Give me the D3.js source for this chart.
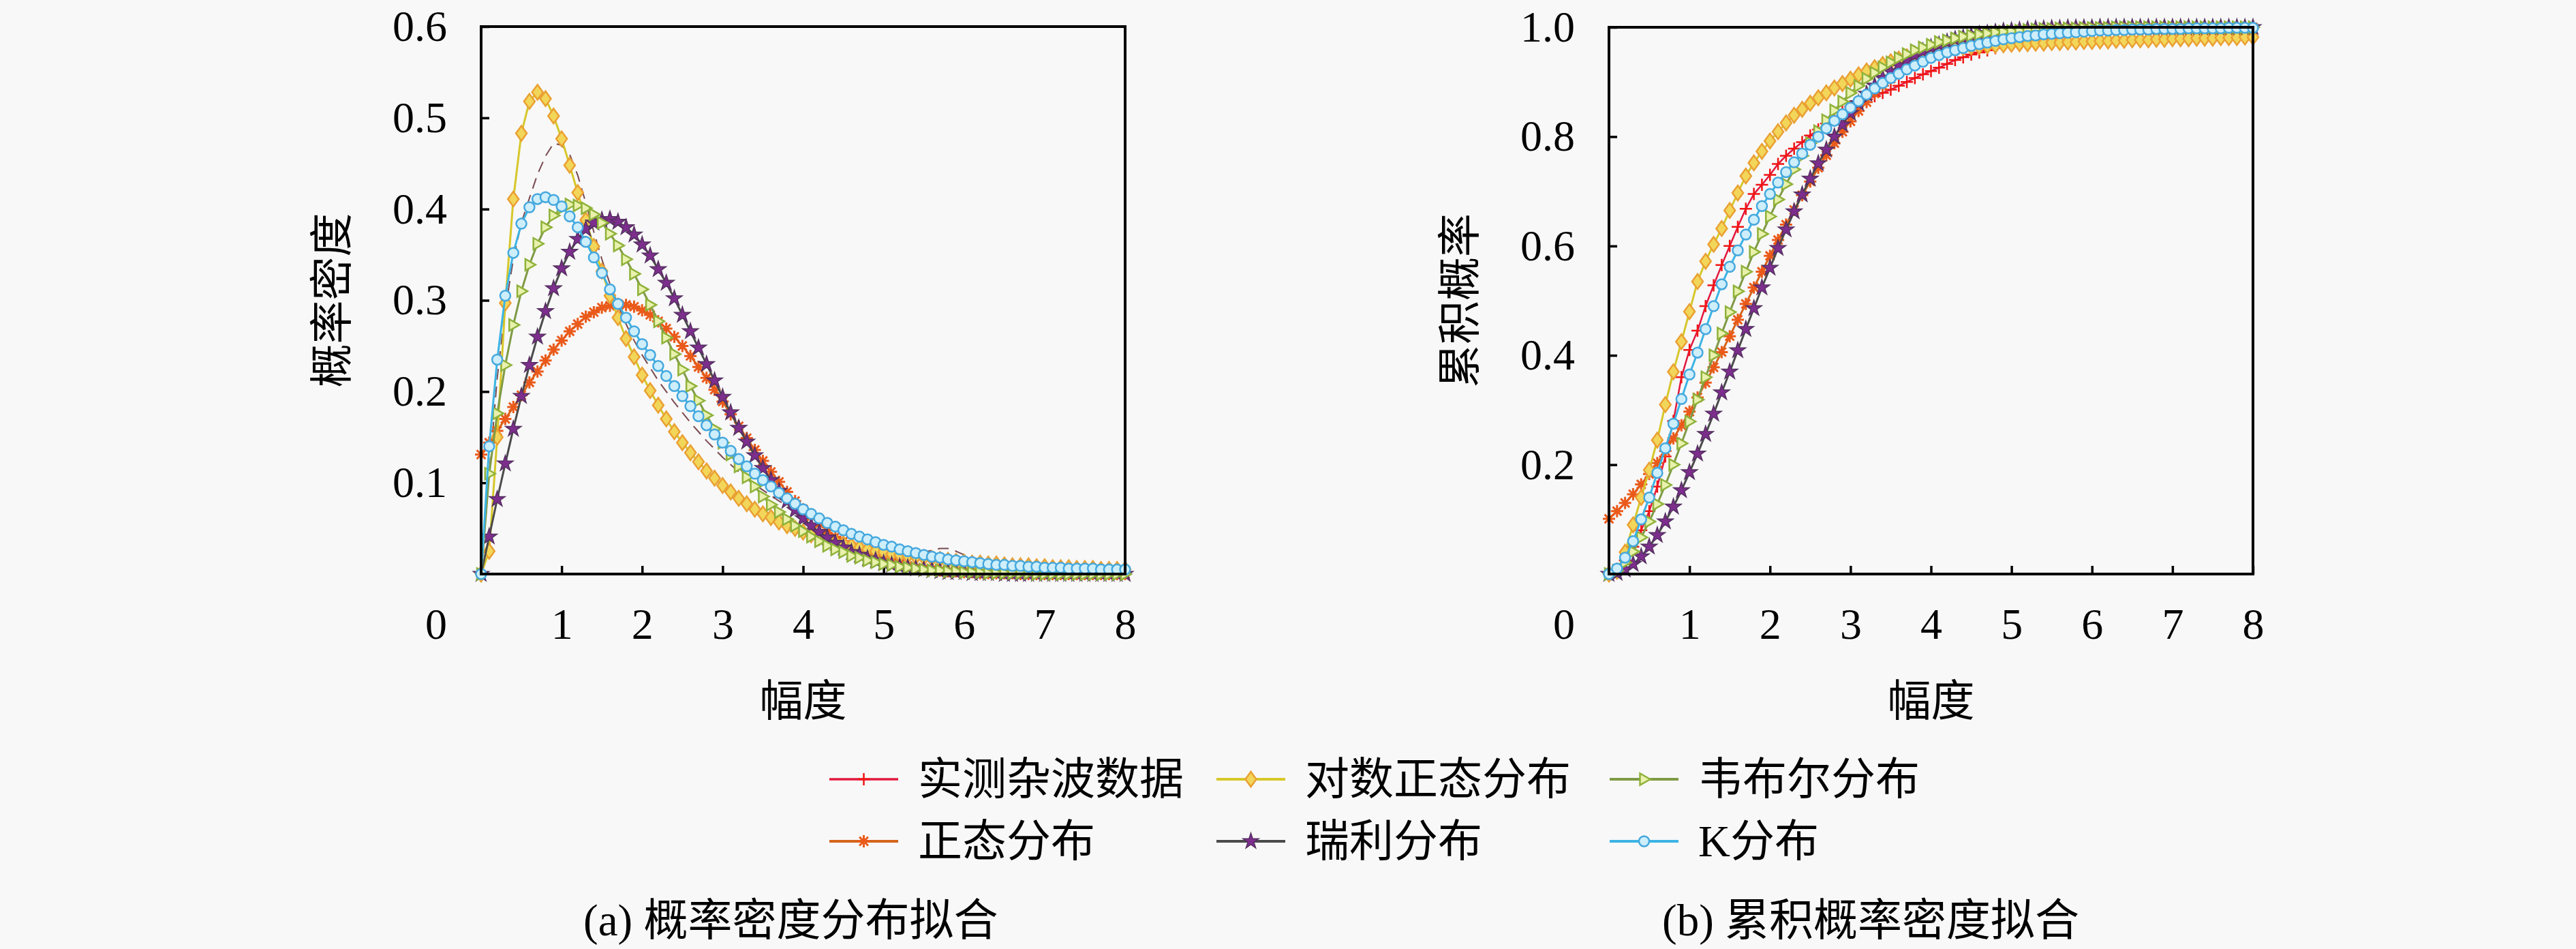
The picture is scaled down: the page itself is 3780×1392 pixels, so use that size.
<!DOCTYPE html>
<html>
<head>
<meta charset="utf-8">
<script src="https://cdn.jsdelivr.net/npm/d3@7"></script>
<style>
body { margin: 0; background: #f8f8f8; }
</style>
</head>
<body>
<div class="chart"></div>
<script>
// amplitude samples shared by every curve
const amplitude = [0,0.1,0.2,0.3,0.4,0.5,0.6,0.7,0.8,0.9,
  1,1.1,1.2,1.3,1.4,1.5,1.6,1.7,1.8,1.9,
  2,2.1,2.2,2.3,2.4,2.5,2.6,2.7,2.8,2.9,
  3,3.1,3.2,3.3,3.4,3.5,3.6,3.7,3.8,3.9,
  4,4.1,4.2,4.3,4.4,4.5,4.6,4.7,4.8,4.9,
  5,5.1,5.2,5.3,5.4,5.5,5.6,5.7,5.8,5.9,
  6,6.1,6.2,6.3,6.4,6.5,6.6,6.7,6.8,6.9,
  7,7.1,7.2,7.3,7.4,7.5,7.6,7.7,7.8,7.9,8];

const seriesNames = ['实测杂波数据', '正态分布', '对数正态分布', '瑞利分布', '韦布尔分布', 'K分布'];

// (a) probability density
const pdfMeasured = [0.000,0.110,0.215,0.290,0.345,0.385,0.412,0.438,0.458,0.472,
  0.470,0.460,0.437,0.407,0.375,0.345,0.318,0.295,0.274,0.256,
  0.240,0.226,0.212,0.200,0.188,0.177,0.166,0.156,0.146,0.137,
  0.128,0.120,0.112,0.105,0.098,0.092,0.086,0.080,0.075,0.070,
  0.065,0.061,0.057,0.053,0.049,0.045,0.042,0.039,0.036,0.033,
  0.031,0.029,0.027,0.025,0.024,0.024,0.026,0.028,0.028,0.025,
  0.021,0.018,0.016,0.014,0.012,0.011,0.010,0.009,0.008,0.008,
  0.007,0.007,0.006,0.006,0.006,0.005,0.005,0.005,0.005,0.004,0.004];
const pdfNormal = [0.131,0.144,0.157,0.170,0.183,0.196,0.210,0.222,0.234,0.246,
  0.256,0.266,0.274,0.282,0.287,0.292,0.294,0.296,0.295,0.293,
  0.289,0.284,0.277,0.269,0.260,0.250,0.239,0.227,0.215,0.202,
  0.189,0.175,0.162,0.149,0.136,0.124,0.112,0.101,0.090,0.080,
  0.071,0.063,0.055,0.048,0.041,0.036,0.030,0.026,0.022,0.018,
  0.016,0.013,0.011,0.009,0.007,0.006,0.005,0.004,0.003,0.003,
  0.002,0.002,0.001,0.001,0.001,0.001,0.001,0.000,0.000,0.000,
  0.000,0.000,0.000,0.000,0.000,0.000,0.000,0.000,0.000,0.000,0.000];
const pdfLognormal = [0.000,0.025,0.150,0.297,0.411,0.483,0.518,0.528,0.521,0.502,
  0.477,0.448,0.418,0.388,0.359,0.332,0.305,0.281,0.258,0.238,
  0.218,0.201,0.185,0.170,0.156,0.144,0.133,0.123,0.113,0.105,
  0.097,0.090,0.083,0.077,0.071,0.066,0.062,0.057,0.053,0.050,
  0.046,0.043,0.040,0.038,0.035,0.033,0.031,0.029,0.027,0.025,
  0.024,0.022,0.021,0.020,0.019,0.018,0.017,0.016,0.015,0.014,
  0.013,0.012,0.012,0.011,0.011,0.010,0.009,0.009,0.009,0.008,
  0.008,0.007,0.007,0.007,0.006,0.006,0.006,0.005,0.005,0.005,0.005];
const pdfRayleigh = [0.000,0.041,0.082,0.121,0.159,0.195,0.229,0.260,0.288,0.313,
  0.335,0.353,0.367,0.378,0.385,0.388,0.389,0.386,0.380,0.372,
  0.361,0.349,0.334,0.319,0.302,0.284,0.266,0.248,0.230,0.212,
  0.194,0.177,0.160,0.145,0.130,0.116,0.103,0.091,0.080,0.070,
  0.061,0.053,0.046,0.040,0.034,0.029,0.024,0.021,0.017,0.015,
  0.012,0.010,0.008,0.007,0.006,0.005,0.004,0.003,0.002,0.002,
  0.002,0.001,0.001,0.001,0.001,0.000,0.000,0.000,0.000,0.000,
  0.000,0.000,0.000,0.000,0.000,0.000,0.000,0.000,0.000,0.000,0.000];
const pdfWeibull = [0.000,0.110,0.176,0.229,0.273,0.310,0.339,0.362,0.380,0.393,
  0.401,0.405,0.404,0.401,0.394,0.385,0.373,0.360,0.345,0.329,
  0.312,0.295,0.277,0.259,0.241,0.224,0.206,0.190,0.174,0.159,
  0.144,0.131,0.118,0.106,0.096,0.085,0.076,0.068,0.060,0.053,
  0.047,0.041,0.036,0.031,0.027,0.024,0.020,0.018,0.015,0.013,
  0.011,0.010,0.008,0.007,0.006,0.005,0.004,0.004,0.003,0.003,
  0.002,0.002,0.002,0.001,0.001,0.001,0.001,0.001,0.001,0.000,
  0.000,0.000,0.000,0.000,0.000,0.000,0.000,0.000,0.000,0.000,0.000];
const pdfK = [0.000,0.140,0.235,0.305,0.352,0.384,0.402,0.411,0.413,0.410,
  0.403,0.392,0.380,0.364,0.347,0.330,0.312,0.296,0.281,0.266,
  0.252,0.240,0.228,0.217,0.206,0.195,0.184,0.173,0.163,0.153,
  0.144,0.135,0.126,0.118,0.110,0.103,0.096,0.089,0.083,0.077,
  0.071,0.066,0.061,0.056,0.052,0.048,0.044,0.041,0.038,0.035,
  0.032,0.030,0.027,0.025,0.023,0.021,0.019,0.018,0.016,0.015,
  0.014,0.013,0.012,0.011,0.010,0.010,0.009,0.009,0.008,0.008,
  0.007,0.007,0.007,0.006,0.006,0.006,0.006,0.005,0.005,0.005,0.005];

// (b) cumulative probability
const cdfMeasured = [0.000,0.006,0.025,0.050,0.080,0.115,0.160,0.215,0.280,0.360,
  0.410,0.445,0.490,0.528,0.565,0.600,0.635,0.668,0.695,0.712,
  0.730,0.750,0.765,0.778,0.790,0.802,0.813,0.824,0.835,0.845,
  0.855,0.862,0.868,0.874,0.880,0.886,0.893,0.900,0.907,0.914,
  0.920,0.926,0.933,0.940,0.945,0.950,0.954,0.958,0.962,0.965,
  0.968,0.970,0.972,0.975,0.977,0.980,0.982,0.985,0.987,0.990,
  0.992,0.993,0.994,0.995,0.995,0.996,0.996,0.997,0.997,0.997,
  0.998,0.998,0.998,0.998,0.998,0.999,0.999,0.999,0.999,0.999,0.999];
const cdfNormal = [0.101,0.115,0.130,0.146,0.164,0.183,0.203,0.225,0.248,0.272,
  0.297,0.323,0.350,0.378,0.406,0.435,0.465,0.494,0.524,0.553,
  0.582,0.611,0.639,0.666,0.693,0.718,0.743,0.766,0.788,0.809,
  0.828,0.847,0.863,0.879,0.893,0.906,0.918,0.929,0.938,0.947,
  0.954,0.961,0.967,0.972,0.976,0.980,0.984,0.986,0.989,0.991,
  0.993,0.994,0.995,0.996,0.997,0.998,0.998,0.999,0.999,0.999,
  0.999,1.000,1.000,1.000,1.000,1.000,1.000,1.000,1.000,1.000,
  1.000,1.000,1.000,1.000,1.000,1.000,1.000,1.000,1.000,1.000,1.000];
const cdfLognormal = [0.000,0.005,0.040,0.090,0.140,0.190,0.245,0.310,0.370,0.425,
  0.480,0.535,0.572,0.603,0.632,0.665,0.697,0.728,0.752,0.773,
  0.792,0.809,0.825,0.839,0.850,0.861,0.871,0.880,0.889,0.897,
  0.905,0.913,0.920,0.926,0.932,0.937,0.942,0.946,0.950,0.953,
  0.956,0.958,0.960,0.962,0.963,0.964,0.965,0.966,0.967,0.968,
  0.969,0.970,0.970,0.971,0.971,0.972,0.972,0.973,0.973,0.974,
  0.974,0.975,0.975,0.976,0.976,0.977,0.977,0.977,0.978,0.978,
  0.979,0.979,0.979,0.980,0.980,0.980,0.981,0.981,0.981,0.982,0.982];
const cdfRayleigh = [0.000,0.002,0.008,0.018,0.032,0.050,0.071,0.096,0.123,0.153,
  0.186,0.220,0.256,0.293,0.332,0.370,0.409,0.448,0.486,0.524,
  0.560,0.596,0.630,0.663,0.694,0.723,0.751,0.776,0.800,0.822,
  0.843,0.861,0.878,0.893,0.907,0.919,0.930,0.940,0.949,0.956,
  0.963,0.968,0.973,0.978,0.981,0.984,0.987,0.989,0.991,0.993,
  0.994,0.995,0.996,0.997,0.997,0.998,0.998,0.999,0.999,0.999,
  0.999,1.000,1.000,1.000,1.000,1.000,1.000,1.000,1.000,1.000,
  1.000,1.000,1.000,1.000,1.000,1.000,1.000,1.000,1.000,1.000,1.000];
const cdfWeibull = [0.000,0.006,0.021,0.041,0.067,0.096,0.128,0.163,0.200,0.239,
  0.279,0.319,0.360,0.400,0.440,0.479,0.517,0.553,0.589,0.622,
  0.654,0.685,0.713,0.740,0.765,0.788,0.810,0.830,0.848,0.864,
  0.880,0.893,0.906,0.917,0.927,0.936,0.944,0.951,0.958,0.963,
  0.968,0.973,0.976,0.980,0.983,0.985,0.987,0.989,0.991,0.992,
  0.993,0.994,0.995,0.996,0.997,0.997,0.998,0.998,0.998,0.999,
  0.999,0.999,0.999,1.000,1.000,1.000,1.000,1.000,1.000,1.000,
  1.000,1.000,1.000,1.000,1.000,1.000,1.000,1.000,1.000,1.000,1.000];
const cdfK = [0.000,0.010,0.030,0.060,0.100,0.140,0.185,0.230,0.275,0.320,
  0.365,0.405,0.448,0.490,0.530,0.562,0.592,0.621,0.648,0.673,
  0.695,0.716,0.735,0.753,0.769,0.785,0.800,0.815,0.829,0.841,
  0.853,0.865,0.877,0.888,0.898,0.907,0.915,0.923,0.930,0.937,
  0.944,0.949,0.954,0.958,0.962,0.966,0.969,0.972,0.975,0.978,
  0.980,0.982,0.984,0.985,0.987,0.988,0.989,0.990,0.991,0.992,
  0.993,0.994,0.994,0.995,0.995,0.996,0.996,0.996,0.997,0.997,
  0.997,0.997,0.998,0.998,0.998,0.998,0.998,0.999,0.999,0.999,0.999];

const pdfSeries = [pdfMeasured, pdfNormal, pdfLognormal, pdfRayleigh, pdfWeibull, pdfK];
const cdfSeries = [cdfMeasured, cdfNormal, cdfLognormal, cdfRayleigh, cdfWeibull, cdfK];

const xTicks = [1, 2, 3, 4, 5, 6, 7, 8];
const pdfTicks = [0.1, 0.2, 0.3, 0.4, 0.5, 0.6];
const cdfTicks = [0.2, 0.4, 0.6, 0.8, 1.0];

let width = 3780;
let height = 1392;
let latin = "'Liberation Serif', 'Noto Sans CJK SC', serif";

// line / marker look of each series, same order as seriesNames
let styles = [
  {line: '#e3173e', lw: 2.5, marker: 'plus', stroke: '#f01414', fill: 'none', mw: 2.5},
  {line: '#d5641c', lw: 3, marker: 'asterisk', stroke: '#ea5a1a', fill: 'none', mw: 3},
  {line: '#d6c72a', lw: 3, marker: 'diamond', stroke: '#eaa033', fill: '#f2d65a', mw: 2.5},
  {line: '#4b4b4b', lw: 3, marker: 'star', stroke: '#553060', fill: '#7d2e8d', mw: 1.5},
  {line: '#7f9a45', lw: 3, marker: 'triangle', stroke: '#8fb23a', fill: '#e9f1ad', mw: 2.5},
  {line: '#3cb4e4', lw: 3, marker: 'circle', stroke: '#45a8de', fill: '#cdeefa', mw: 2.5}
];

function markerPath(type) {
  if (type == 'plus') return 'M-9,0H9M0,-9V9';
  if (type == 'asterisk') return 'M-9,0H9M0,-9V9M-6.4,-6.4L6.4,6.4M-6.4,6.4L6.4,-6.4';
  if (type == 'diamond') return 'M0,-11L8,0L0,11L-8,0Z';
  if (type == 'triangle') return 'M9,0L-6,-8.5L-6,8.5Z';
  if (type == 'star') return d3.symbol(d3.symbolStar, 165)();
  return d3.symbol(d3.symbolCircle, 177)();
}

let svg = d3.select('.chart')
  .append('svg')
  .attr('width', width)
  .attr('height', height)
  .style('background', '#f8f8f8');

// dashMeasured: the density panel shows the measured curve as a thin dashed trace
function drawPanel(x0, x1, y0, y1, yMax, yTicks, values, yLabel, dashMeasured) {
  let xScale = d3.scaleLinear().domain([0, 8]).range([x0, x1]);
  let yScale = d3.scaleLinear().domain([0, yMax]).range([y0, y1]);
  let g = svg.append('g');

  let xAxis = d3.axisBottom(xScale)
    .tickValues(xTicks)
    .tickSizeInner(-12)
    .tickSizeOuter(0)
    .tickPadding(50)
    .tickFormat(d3.format('d'));
  let yAxis = d3.axisLeft(yScale)
    .tickValues(yTicks)
    .tickSizeInner(-12)
    .tickSizeOuter(0)
    .tickPadding(50)
    .tickFormat(d3.format('.1f'));

  let gx = g.append('g').attr('transform', 'translate(0,' + y0 + ')').call(xAxis);
  let gy = g.append('g').attr('transform', 'translate(' + x0 + ',0)').call(yAxis);
  [gx, gy].forEach(a => {
    a.select('.domain').remove();
    a.selectAll('line').attr('stroke', '#000').attr('stroke-width', 3.5);
    a.selectAll('text').attr('font-family', latin).attr('font-size', 64).attr('fill', '#000');
  });

  // the shared origin label sits left of the corner, on the x label row
  g.append('text')
    .attr('x', x0 - 50)
    .attr('y', y0 + 50)
    .attr('dy', '0.71em')
    .attr('text-anchor', 'end')
    .attr('font-family', latin)
    .attr('font-size', 64)
    .text('0');

  let line = d3.line()
    .x((d, i) => xScale(amplitude[i]))
    .y(d => yScale(d));

  values.forEach((vals, k) => {
    let st = styles[k];
    let dashed = dashMeasured && k == 0;
    g.append('path')
      .datum(vals)
      .attr('d', line)
      .attr('fill', 'none')
      .attr('stroke', dashed ? '#7a4a52' : st.line)
      .attr('stroke-width', dashed ? 2 : st.lw)
      .attr('stroke-dasharray', dashed ? '16 10' : null)
      .attr('stroke-linejoin', 'round');
    if (dashed) return;
    g.append('g')
      .selectAll('path')
      .data(vals)
      .enter()
      .append('path')
      .attr('d', markerPath(st.marker))
      .attr('transform', (d, i) => 'translate(' + xScale(amplitude[i]) + ',' + yScale(d) + ')')
      .attr('fill', st.fill)
      .attr('stroke', st.stroke)
      .attr('stroke-width', st.mw);
  });

  g.append('rect')
    .attr('x', x0)
    .attr('y', y1)
    .attr('width', x1 - x0)
    .attr('height', y0 - y1)
    .attr('fill', 'none')
    .attr('stroke', '#000')
    .attr('stroke-width', 4);

  g.append('text')
    .attr('transform', 'translate(' + (x0 - 219) + ',' + ((y0 + y1) / 2) + ') rotate(-90)')
    .attr('text-anchor', 'middle')
    .attr('dominant-baseline', 'central')
    .attr('font-family', latin)
    .attr('font-size', 64)
    .text(yLabel);
  g.append('text')
    .attr('x', (x0 + x1) / 2)
    .attr('y', 1028)
    .attr('text-anchor', 'middle')
    .attr('dominant-baseline', 'central')
    .attr('font-family', latin)
    .attr('font-size', 64)
    .text('幅度');
}

drawPanel(706, 1651, 842, 39, 0.6, pdfTicks, pdfSeries, '概率密度', true);
drawPanel(2361, 3306, 842, 40, 1.0, cdfTicks, cdfSeries, '累积概率', false);

// legend, filled column by column
let legendCols = [1217, 1785, 2362];
let legendRows = [1143, 1234];
let legend = svg.append('g').attr('id', 'legend');
seriesNames.forEach((name, k) => {
  let st = styles[k];
  let lx = legendCols[Math.floor(k / 2)];
  let ly = legendRows[k % 2];
  let item = legend.append('g').attr('transform', 'translate(' + lx + ',' + ly + ')');
  item.append('line')
    .attr('x1', 0).attr('x2', 101)
    .attr('stroke', st.line)
    .attr('stroke-width', st.lw + 1);
  item.append('path')
    .attr('d', markerPath(st.marker))
    .attr('transform', 'translate(50.5,0)')
    .attr('fill', st.fill)
    .attr('stroke', st.stroke)
    .attr('stroke-width', st.mw);
  item.append('text')
    .attr('x', 130)
    .attr('dominant-baseline', 'central')
    .attr('font-family', latin)
    .attr('font-size', 65)
    .text(name);
});

svg.append('text')
  .attr('x', 856).attr('y', 1350)
  .attr('dominant-baseline', 'central')
  .attr('font-family', latin)
  .attr('font-size', 65)
  .text('(a) 概率密度分布拟合');
svg.append('text')
  .attr('x', 2439).attr('y', 1350)
  .attr('dominant-baseline', 'central')
  .attr('font-family', latin)
  .attr('font-size', 65)
  .text('(b) 累积概率密度拟合');
</script>
</body>
</html>
